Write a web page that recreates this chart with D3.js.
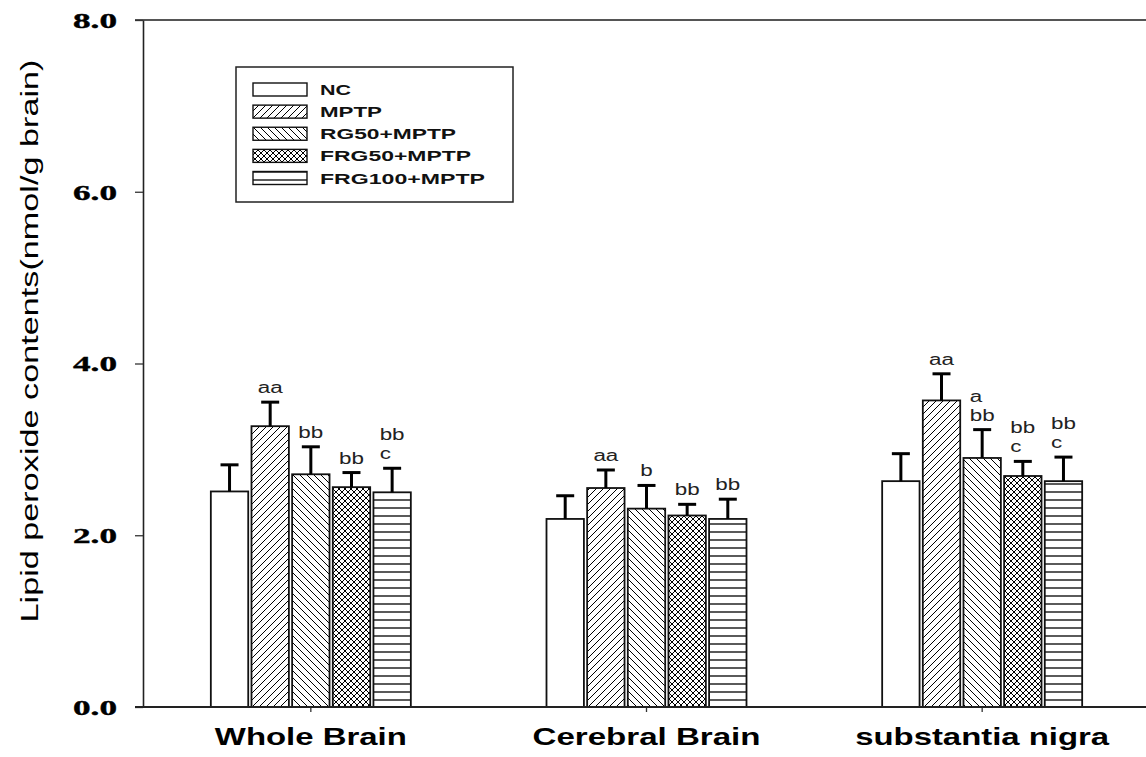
<!DOCTYPE html>
<html>
<head>
<meta charset="utf-8">
<script src="https://cdn.jsdelivr.net/npm/d3@7"></script>
<style>
  html, body { margin: 0; padding: 0; background: #fff; }
  svg { display: block; }
</style>
</head>
<body>
<svg id="chart" width="1146" height="757"></svg>
<script>
// Regions of the brain (x categories)
const categories = ["Whole Brain", "Cerebral Brain", "substantia nigra"];
// Treatment groups
const groups = ["NC", "MPTP", "RG50+MPTP", "FRG50+MPTP", "FRG100+MPTP"];

// Mean lipid peroxide content per group, one entry per region
const ncMean     = [2.51, 2.19, 2.63];
const mptpMean   = [3.27, 2.55, 3.57];
const rg50Mean   = [2.71, 2.31, 2.90];
const frg50Mean  = [2.56, 2.23, 2.69];
const frg100Mean = [2.50, 2.19, 2.63];

// Standard deviations (upper error bars)
const ncErr     = [0.31, 0.27, 0.32];
const mptpErr   = [0.28, 0.21, 0.31];
const rg50Err   = [0.32, 0.27, 0.33];
const frg50Err  = [0.17, 0.13, 0.17];
const frg100Err = [0.28, 0.23, 0.28];

// Significance letters stacked above each error bar
const ncSig     = [[], [], []];
const mptpSig   = [["aa"], ["aa"], ["aa"]];
const rg50Sig   = [["bb"], ["b"], ["a", "bb"]];
const frg50Sig  = [["bb"], ["bb"], ["bb", "c"]];
const frg100Sig = [["bb", "c"], ["bb"], ["bb", "c"]];

const yTicks = [0, 2, 4, 6, 8];
const yTitle = "Lipid peroxide contents(nmol/g brain)";

const means = [ncMean, mptpMean, rg50Mean, frg50Mean, frg100Mean];
const errs = [ncErr, mptpErr, rg50Err, frg50Err, frg100Err];
const sigs = [ncSig, mptpSig, rg50Sig, frg50Sig, frg100Sig];
const patternIds = ["none", "fwd", "back", "cross", "horiz"];

const svg = d3.select("#chart");
const defs = svg.append("defs");

// Hatch patterns for the bar fills
function hatch(id, size, d, sw) {
  const p = defs.append("pattern")
    .attr("id", id)
    .attr("patternUnits", "userSpaceOnUse")
    .attr("width", size).attr("height", size);
  p.append("rect").attr("width", size).attr("height", size).attr("fill", "#fff");
  p.append("path").attr("d", d).attr("stroke", "#000").attr("stroke-width", sw).attr("fill", "none");
}
hatch("fwd", 7, "M0,7 L7,0 M-1,1 L1,-1 M6,8 L8,6", 1);
hatch("back", 7, "M0,0 L7,7 M-1,6 L1,8 M6,-1 L8,1", 1);
hatch("cross", 6, "M0,6 L6,0 M-1,1 L1,-1 M5,7 L7,5 M0,0 L6,6 M-1,5 L1,7 M5,-1 L7,1", 1);
hatch("horiz", 8, "M0,4 L8,4", 1.3);

function fillFor(i) {
  return patternIds[i] === "none" ? "#fff" : `url(#${patternIds[i]})`;
}

const y = d3.scaleLinear().domain([0, 8]).range([707, 20]);
const x = d3.scaleBand().domain(categories).range([143, 1150]).padding(0);
const inner = d3.scaleBand().domain(groups).range([-100, 100]).paddingInner(0.08).paddingOuter(0);

// Frame lines: top edge
svg.append("line").attr("x1", 135).attr("x2", 1146).attr("y1", 20).attr("y2", 20)
  .attr("stroke", "#555").attr("stroke-width", 2);

// Y axis
const yAxis = svg.append("g")
  .attr("transform", "translate(143,0)")
  .call(d3.axisLeft(y).tickValues(yTicks).tickFormat(d3.format(".1f")).tickSize(8).tickSizeOuter(0));
yAxis.select(".domain").attr("stroke", "#222").attr("stroke-width", 1.6);
yAxis.selectAll(".tick line").attr("stroke", "#333").attr("stroke-width", 1.3);
yAxis.selectAll(".tick text")
  .attr("x", 0).attr("dy", null)
  .attr("dominant-baseline", "central")
  .attr("transform", "translate(-26,0) scale(1.6,1)")
  .attr("font-family", "'Liberation Serif', 'Times New Roman', serif")
  .attr("font-weight", "bold")
  .attr("font-size", 22)
  .attr("stroke", "#000").attr("stroke-width", 0.4)
  .attr("fill", "#000");

// X axis
const xAxis = svg.append("g")
  .attr("transform", "translate(0,707)")
  .call(d3.axisBottom(x).tickSize(5).tickSizeOuter(0));
xAxis.select(".domain").remove();
xAxis.selectAll(".tick line").attr("stroke", "#333").attr("stroke-width", 1.3);
xAxis.selectAll(".tick text")
  .attr("y", 38).attr("dy", null)
  .attr("font-family", "Arial, 'Liberation Sans', sans-serif")
  .attr("font-weight", "bold")
  .attr("font-size", 23)
  .attr("fill", "#000")
  .attr("textLength", d => ({ "Whole Brain": 192, "Cerebral Brain": 228, "substantia nigra": 254 })[d])
  .attr("lengthAdjust", "spacingAndGlyphs");

// Bars, error bars and letters
const rows = [];
categories.forEach((c, ci) => {
  groups.forEach((g, gi) => {
    rows.push({ cat: c, ci, group: g, gi, mean: means[gi][ci], err: errs[gi][ci], sig: sigs[gi][ci] });
  });
});

const plot = svg.append("g");
const barG = plot.selectAll("g.bar").data(rows).join("g").attr("class", "bar");

barG.append("rect")
  .attr("x", d => x(d.cat) + x.bandwidth() / 2 + inner(d.group))
  .attr("width", inner.bandwidth())
  .attr("y", d => y(d.mean))
  .attr("height", d => y(0) - y(d.mean))
  .attr("fill", d => fillFor(d.gi))
  .attr("stroke", "#111")
  .attr("stroke-width", 1.8);

const cx = d => x(d.cat) + x.bandwidth() / 2 + inner(d.group) + inner.bandwidth() / 2;

barG.append("line")
  .attr("x1", cx).attr("x2", cx)
  .attr("y1", d => y(d.mean)).attr("y2", d => y(d.mean + d.err))
  .attr("stroke", "#000").attr("stroke-width", 3);
barG.append("line")
  .attr("x1", d => cx(d) - 9).attr("x2", d => cx(d) + 9)
  .attr("y1", d => y(d.mean + d.err)).attr("y2", d => y(d.mean + d.err))
  .attr("stroke", "#000").attr("stroke-width", 3);

// Letter stacks: left-aligned lines, block centred on the bar
const letterScale = 1.4;
barG.each(function (d) {
  if (!d.sig.length) return;
  const g = d3.select(this);
  const lineH = 19;
  const maxLen = d3.max(d.sig, s => s.length);
  const charW = 8.9 * letterScale;
  const left = cx(d) - (maxLen * charW) / 2;
  const base = y(d.mean + d.err) - 9;
  d.sig.forEach((s, i) => {
    const by = base - (d.sig.length - 1 - i) * lineH;
    g.append("text")
      .attr("transform", `translate(${left},${by}) scale(${letterScale},1)`)
      .attr("font-family", "Arial, 'Liberation Sans', sans-serif")
      .attr("font-size", 16)
      .attr("fill", "#222")
      .text(s);
  });
});

// Baseline drawn over bar bottoms
svg.append("line").attr("x1", 135).attr("x2", 1146).attr("y1", 707).attr("y2", 707)
  .attr("stroke", "#222").attr("stroke-width", 1.8);

// Y axis title
svg.append("text")
  .attr("transform", "translate(38,341) rotate(-90)")
  .attr("text-anchor", "middle")
  .attr("font-family", "Arial, 'Liberation Sans', sans-serif")
  .attr("font-size", 23)
  .attr("fill", "#000")
  .attr("textLength", 563)
  .attr("lengthAdjust", "spacingAndGlyphs")
  .text(yTitle);

// Legend
const legend = svg.append("g");
legend.append("rect")
  .attr("x", 236).attr("y", 67).attr("width", 277).attr("height", 135)
  .attr("fill", "#fff").attr("stroke", "#222").attr("stroke-width", 1.5);
const legendLen = [31, 62, 136, 151, 165];
const legendRow = d3.scalePoint().domain(groups).range([89.5, 178]);
const lg = legend.selectAll("g.item").data(groups).join("g").attr("class", "item");
lg.append("rect")
  .attr("x", 253).attr("width", 54)
  .attr("y", d => legendRow(d) - 6.5).attr("height", 13)
  .attr("fill", (d, i) => fillFor(i))
  .attr("stroke", "#111").attr("stroke-width", 1.4);
lg.append("text")
  .attr("x", 320)
  .attr("y", d => legendRow(d) + 5.5)
  .attr("font-family", "Arial, 'Liberation Sans', sans-serif")
  .attr("font-weight", "bold")
  .attr("font-size", 15)
  .attr("fill", "#111")
  .attr("textLength", (d, i) => legendLen[i])
  .attr("lengthAdjust", "spacingAndGlyphs")
  .text(d => d);
</script>
</body>
</html>
